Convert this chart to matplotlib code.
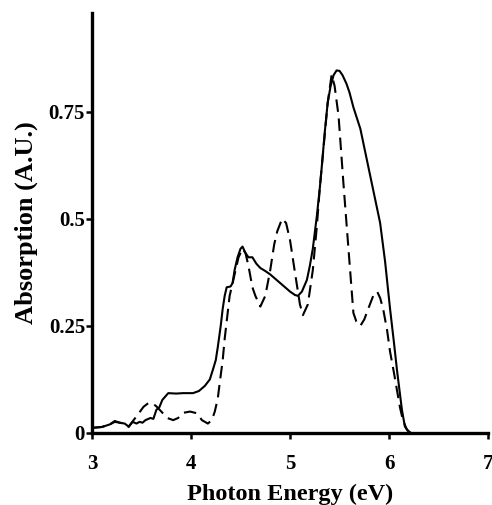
import matplotlib
matplotlib.use("Agg")
import matplotlib.pyplot as plt

# spectra (photon energy in eV, absorption in A.U.)
solid_x = [3.00, 3.10, 3.18, 3.23, 3.28, 3.33, 3.37, 3.41, 3.45, 3.48, 3.51, 3.54,
           3.59, 3.62, 3.65, 3.68, 3.71, 3.74, 3.77, 3.85, 3.92, 4.02, 4.08, 4.14,
           4.19, 4.22, 4.25, 4.27, 4.30, 4.32, 4.34, 4.36, 4.40, 4.42, 4.44, 4.47,
           4.50, 4.52, 4.55, 4.58, 4.62, 4.66, 4.70, 4.75, 4.80, 4.85, 4.90, 4.95,
           5.00, 5.05, 5.08, 5.12, 5.17, 5.20, 5.23, 5.27, 5.30, 5.32, 5.35, 5.38,
           5.41, 5.44, 5.47, 5.50, 5.53, 5.57, 5.60, 5.64, 5.71, 5.76, 5.81, 5.86,
           5.91, 5.96, 6.01, 6.05, 6.08, 6.13, 6.16, 6.20, 6.22]
solid_y = [0.012, 0.014, 0.020, 0.028, 0.024, 0.022, 0.015, 0.026, 0.022, 0.026, 0.024, 0.030,
           0.035, 0.033, 0.054, 0.060, 0.077, 0.085, 0.093, 0.092, 0.093, 0.093, 0.098, 0.110,
           0.125, 0.147, 0.170, 0.200, 0.250, 0.290, 0.320, 0.340, 0.342, 0.350, 0.380, 0.410,
           0.430, 0.435, 0.420, 0.410, 0.410, 0.395, 0.385, 0.378, 0.370, 0.360, 0.350, 0.340,
           0.330, 0.322, 0.320, 0.330, 0.357, 0.390, 0.430, 0.505, 0.570, 0.620, 0.700, 0.770,
           0.810, 0.835, 0.846, 0.845, 0.835, 0.815, 0.795, 0.760, 0.710, 0.655, 0.600, 0.545,
           0.490, 0.400, 0.290, 0.210, 0.147, 0.054, 0.015, 0.002, 0.000]

dashed_x = [3.00, 3.10, 3.18, 3.23, 3.28, 3.33, 3.37, 3.42, 3.46, 3.52, 3.57, 3.62,
            3.66, 3.70, 3.76, 3.82, 3.87, 3.92, 3.99, 4.06, 4.11, 4.17, 4.21, 4.24,
            4.27, 4.29, 4.32, 4.34, 4.37, 4.39, 4.44, 4.48, 4.52, 4.55, 4.58, 4.62,
            4.65, 4.70, 4.75, 4.80, 4.84, 4.87, 4.92, 4.96, 5.00, 5.05, 5.10, 5.13,
            5.18, 5.23, 5.27, 5.30, 5.34, 5.38, 5.42, 5.45, 5.49, 5.54, 5.59, 5.64,
            5.67, 5.71, 5.75, 5.79, 5.84, 5.88, 5.91, 5.94, 5.98, 6.01, 6.05, 6.08,
            6.11, 6.14, 6.18, 6.22]
dashed_y = [0.012, 0.014, 0.020, 0.026, 0.024, 0.022, 0.014, 0.030, 0.042, 0.061, 0.070, 0.068,
            0.060, 0.050, 0.035, 0.030, 0.035, 0.047, 0.050, 0.046, 0.030, 0.022, 0.030, 0.050,
            0.080, 0.117, 0.170, 0.220, 0.280, 0.320, 0.370, 0.410, 0.430, 0.420, 0.390, 0.340,
            0.320, 0.295, 0.320, 0.380, 0.440, 0.470, 0.500, 0.490, 0.450, 0.374, 0.300, 0.275,
            0.300, 0.380, 0.480, 0.570, 0.670, 0.770, 0.836, 0.810, 0.740, 0.580, 0.430, 0.280,
            0.260, 0.250, 0.265, 0.290, 0.320, 0.330, 0.315, 0.290, 0.240, 0.190, 0.140, 0.100,
            0.060, 0.030, 0.008, 0.000]

x_ticks = [3, 4, 5, 6, 7]
y_ticks = [0, 0.25, 0.5, 0.75]
y_tick_labels = ["0", "0.25", "0.5", "0.75"]

plt.rcParams["font.family"] = ["Liberation Serif", "DejaVu Serif"]
plt.rcParams["font.weight"] = "bold"

fig = plt.figure(figsize=(4.92, 5.05), dpi=100)
ax = fig.add_axes([0.187, 0.1426, 0.805, 0.8316])

ax.plot(solid_x, solid_y, color="black", lw=1.5, solid_joinstyle="round")
ax.plot(dashed_x, dashed_y, color="black", lw=1.5, dashes=(6, 3.2))

ax.set_xlim(3, 7)
ax.set_ylim(0, 0.98)
ax.set_xticks(x_ticks)
ax.set_xticklabels([str(t) for t in x_ticks])
ax.set_yticks(y_ticks)
ax.set_yticklabels(y_tick_labels)

for side in ("top", "right"):
    ax.spines[side].set_visible(False)
for side in ("left", "bottom"):
    ax.spines[side].set_linewidth(2.4)
    ax.spines[side].set_capstyle("projecting")

ax.tick_params(axis="both", direction="out", length=4, width=1.8, labelsize=15)
ax.tick_params(axis="x", pad=11)
ax.tick_params(axis="y", pad=1)
for lab in ax.get_xticklabels() + ax.get_yticklabels():
    lab.set_fontweight("bold")

ax.set_xlabel("Photon Energy (eV)", fontsize=17.5, fontweight="bold", labelpad=7)
ax.set_ylabel("Absorption (A.U.)", fontsize=19, fontweight="bold", labelpad=8)

fig.savefig("out.png", dpi=100)
